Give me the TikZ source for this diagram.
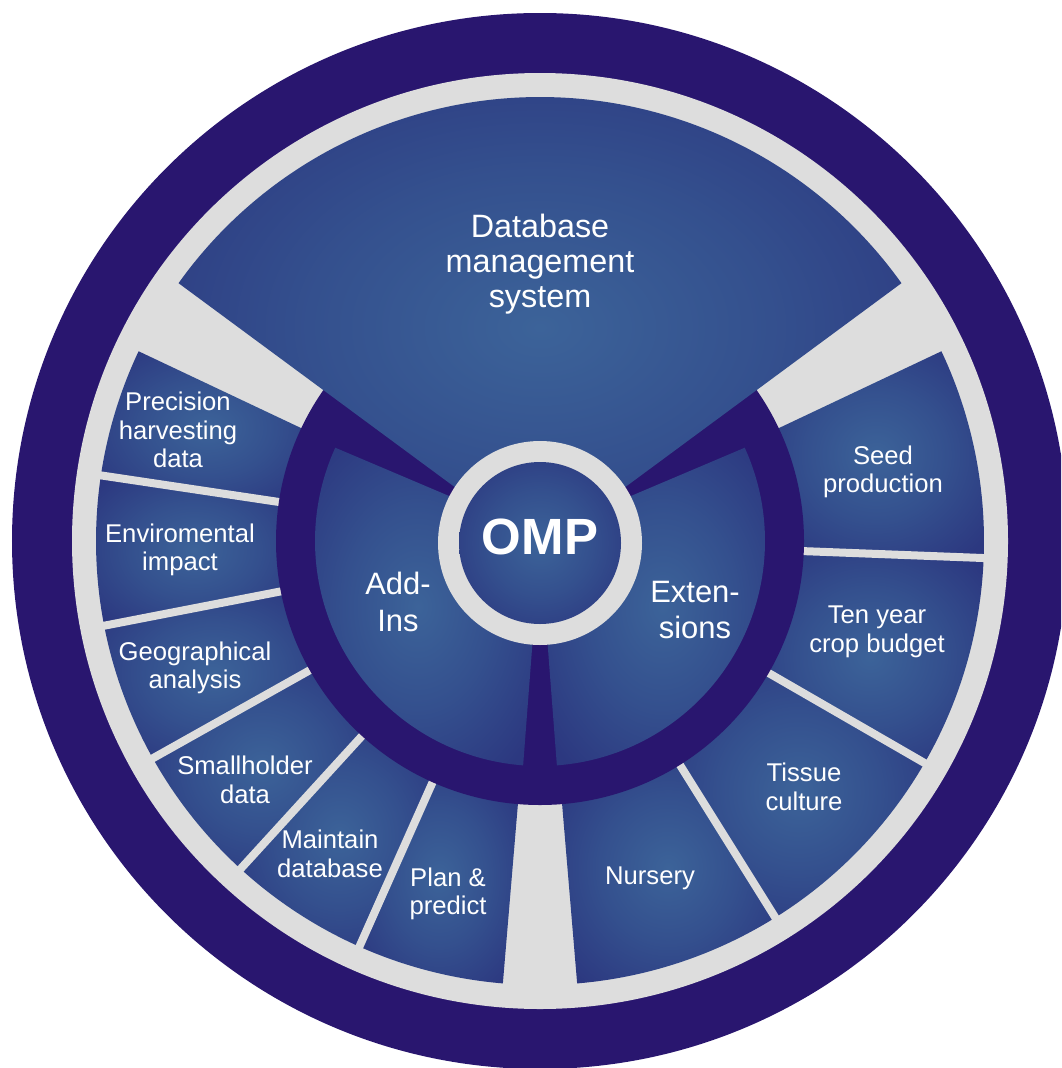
\documentclass[tikz,border=0pt]{standalone}
\usepackage{fontspec}
\setmainfont{Liberation Sans}
\definecolor{navy}{RGB}{41,22,111}
\definecolor{ringgray}{RGB}{221,221,221}
\definecolor{segL}{RGB}{60,99,153}
\definecolor{segM}{RGB}{52,80,142}
\definecolor{segD}{RGB}{44,56,128}
\pgfdeclareradialshading{segshade}{\pgfpoint{0bp}{0bp}}{color(0bp)=(segL); color(16bp)=(segM); color(32bp)=(segD); color(50bp)=(segD)}
\tikzset{
  seg/.style={shading=segshade},
  sep/.style={draw=ringgray, line width=0.8mm},
  lab/.style={text=white, align=center, font=\fontsize{7.3}{8.1}\selectfont, inner sep=0pt},
  dblab/.style={text=white, align=center, font=\fontsize{9.2}{10}\selectfont, inner sep=0pt},
  midlab/.style={text=white, align=center, font=\fontsize{8.8}{10.5}\selectfont, inner sep=0pt},
  omplab/.style={text=white, font=\fontsize{14.5}{17}\selectfont\bfseries, inner sep=0pt}
}
\begin{document}
\begin{tikzpicture}
\clip (0,0) rectangle (10.61,-10.68);
\begin{scope}[shift={(5.40,-5.41)}]
\coordinate (C) at (0,0);
% outer rings
\fill[navy] (C) circle[radius=5.28];
\fill[ringgray] (C) circle[radius=4.68];
% outer segments, left (Add-Ins side)
\foreach \s/\e in {154.7/171.5, 171.5/191, 191/209.3, 209.3/227.6, 227.6/246, 246/265.2}
  \shade[seg] (\s:4.44) arc[start angle=\s, end angle=\e, radius=4.44] -- (\e:2.5) arc[start angle=\e, end angle=\s, radius=2.5] -- cycle;
% outer segments, right (Extensions side)
\foreach \s/\e in {-85.2/-58, -58/-30, -30/-2.2, -2.2/25.3}
  \shade[seg] (\s:4.44) arc[start angle=\s, end angle=\e, radius=4.44] -- (\e:2.5) arc[start angle=\e, end angle=\s, radius=2.5] -- cycle;
% thin separators
\foreach \a in {171.5,191,209.3,227.6,246,-58,-30,-2.2}
  \draw[sep] (\a:2.5) -- (\a:4.55);
% inner dark ring
\fill[navy] (C) circle[radius=2.64];
% Add-Ins and Extensions sectors
\shade[seg] (155.5:2.25) arc[start angle=155.5, end angle=265.7, radius=2.25] -- (265.8:0.9) -- (153.5:0.97) -- cycle;
\shade[seg] (24.5:2.25) arc[start angle=24.5, end angle=-85.7, radius=2.25] -- (-85.8:0.9) -- (26.5:0.97) -- cycle;
% Database wedge
\shade[seg] (35.5:4.44) arc[start angle=35.5, end angle=144.5, radius=4.44] -- (147.8:0.98) -- (270:0.3) -- (32.2:0.98) -- cycle;
% OMP hub
\fill[ringgray] (0,-0.02) circle[radius=1.02];
\shade[seg] (0,-0.02) circle[radius=0.81];
% labels
\node[omplab] (omp) at (0,0.04) {OMP};
\node[dblab] (dbms) at (0,2.77) {Database\\management\\system};
\node[midlab] (addins) at (-1.42,-0.61) {Add-\\Ins};
\node[midlab] (ext) at (1.55,-0.69) {Exten-\\sions};
\node[lab] (prec) at (-3.62,1.11) {Precision\\harvesting\\data};
\node[lab] (env) at (-3.60,-0.09) {Enviromental\\impact};
\node[lab] (geo) at (-3.45,-1.27) {Geographical\\analysis};
\node[lab] (small) at (-2.95,-2.39) {Smallholder\\data};
\node[lab] (maint) at (-2.10,-3.13) {Maintain\\database};
\node[lab] (plan) at (-0.92,-3.53) {Plan \&\\predict};
\node[lab] (nurs) at (1.10,-3.37) {Nursery};
\node[lab] (tiss) at (2.64,-2.46) {Tissue\\culture};
\node[lab] (ten) at (3.37,-0.91) {Ten year\\crop budget};
\node[lab] (seed) at (3.43,0.69) {Seed\\production};
\end{scope}
\end{tikzpicture}
\end{document}
